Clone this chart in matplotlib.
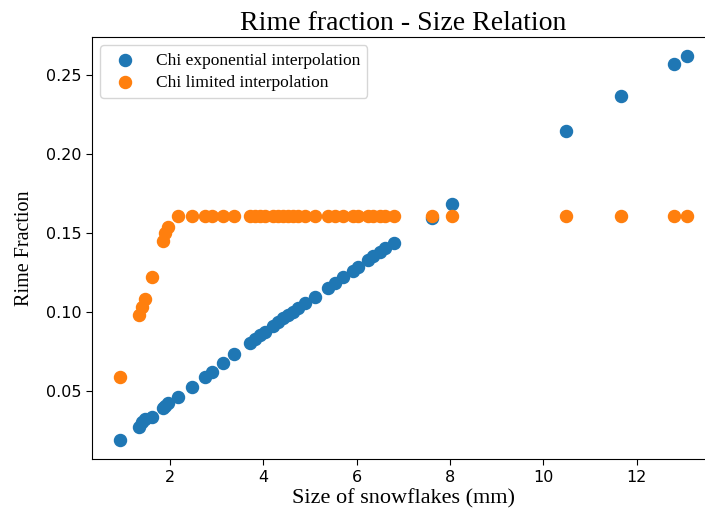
import numpy as np
import matplotlib
matplotlib.use("Agg")
import matplotlib.pyplot as plt

# snowflake size (mm), shared by both interpolation schemes
size_mm = [0.928, 1.341, 1.410, 1.474, 1.607, 1.843, 1.892, 1.950, 2.177, 2.464,
           2.749, 2.893, 3.128, 3.370, 3.713, 3.820, 3.927, 4.035, 4.213, 4.320,
           4.427, 4.534, 4.641, 4.748, 4.892, 5.106, 5.391, 5.535, 5.712, 5.914,
           6.034, 6.248, 6.355, 6.499, 6.606, 6.805, 7.619, 8.048, 10.478, 11.656,
           12.798, 13.083]

rime_exp = [0.0190, 0.0274, 0.0306, 0.0323, 0.0337, 0.0391, 0.0405, 0.0422, 0.0464, 0.0527,
            0.0591, 0.0622, 0.0675, 0.0734, 0.0802, 0.0827, 0.0854, 0.0875, 0.0911, 0.0939,
            0.0960, 0.0981, 0.1002, 0.1023, 0.1055, 0.1093, 0.1150, 0.1185, 0.1220, 0.1261,
            0.1287, 0.1329, 0.1354, 0.1382, 0.1403, 0.1435, 0.1593, 0.1684, 0.2148, 0.2365,
            0.2568, 0.2620]

rime_lim = [0.059, 0.098, 0.103, 0.108, 0.122, 0.145, 0.150, 0.154, 0.161, 0.161,
            0.161, 0.161, 0.161, 0.161, 0.161, 0.161, 0.161, 0.161, 0.161, 0.161,
            0.161, 0.161, 0.161, 0.161, 0.161, 0.161, 0.161, 0.161, 0.161, 0.161,
            0.161, 0.161, 0.161, 0.161, 0.161, 0.161, 0.161, 0.161, 0.161, 0.161,
            0.161, 0.161]

serif = "Liberation Serif"

fig = plt.figure(figsize=(7.05, 5.13), dpi=100)
ax = fig.add_axes([91.6 / 705, 53.8 / 513, 624 / 705, 422.4 / 513])

ax.scatter(size_mm, rime_exp, s=75, color="tab:blue", label="Chi exponential interpolation")
ax.scatter(size_mm, rime_lim, s=75, color="tab:orange", label="Chi limited interpolation")

ax.set_xlim(0.32, 13.69)
ax.set_ylim(0.0068, 0.2742)
ax.set_xticks([2, 4, 6, 8, 10, 12])
ax.set_yticks([0.05, 0.10, 0.15, 0.20, 0.25])
ax.tick_params(labelsize=11.5, length=4)
# frame runs past the right edge of the canvas
ax.spines["right"].set_visible(False)

ax.set_title("Rime fraction - Size Relation", fontsize=20, family=serif, pad=5)
ax.set_xlabel("Size of snowflakes (mm)", fontsize=16, family=serif, labelpad=3)
ax.set_ylabel("Rime Fraction", fontsize=14.5, family=serif, labelpad=8)
ax.legend(loc="upper left", prop={"family": serif, "size": 12.5}, labelspacing=0.35)

fig.savefig("out.png", dpi=100)
